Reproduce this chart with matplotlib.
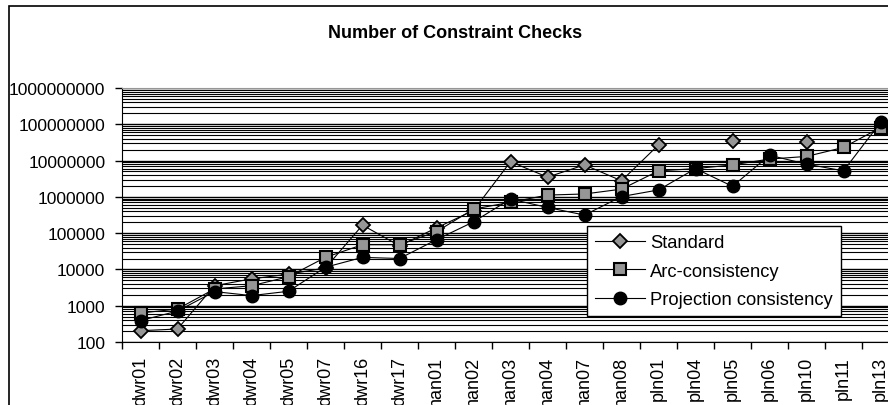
import numpy as np
import matplotlib
matplotlib.use("Agg")
import matplotlib.pyplot as plt
from matplotlib.ticker import FixedLocator, FuncFormatter, NullFormatter
from matplotlib.patches import Rectangle

plt.rcParams['font.family'] = ['Liberation Sans', 'DejaVu Sans']

# --- data --- #
problems = ["dwr01", "dwr02", "dwr03", "dwr04", "dwr05", "dwr07", "dwr16", "dwr17",
            "han01", "han02", "han03", "han04", "han07", "han08",
            "pln01", "pln04", "pln05", "pln06", "pln10", "pln11", "pln13"]

standard = [205, 228, 3550, 5500, 7400, 11000, 166000, 45000,
            140000, 420000, 9.3e6, 3.5e6, 7.6e6, 2.77e6,
            2.7e7, np.nan, 3.4e7, np.nan, 3.2e7, np.nan, np.nan]
arc = [630, 810, 2900, 3550, 6300, 21500, 48000, 48000,
       110000, 460000, 710000, 1.12e6, 1.2e6, 1.63e6,
       5.2e6, 6.0e6, 7.6e6, 1.1e7, 1.3e7, 2.3e7, 8.1e7]
projection = [390, 710, 2450, 1900, 2500, 11500, 21500, 20000,
              66000, 205000, 870000, 510000, 315000, 1.02e6,
              1.55e6, 6.0e6, 1.95e6, 1.4e7, 8.0e6, 5.2e6, 1.12e8]

W, H = 888, 406
fig = plt.figure(figsize=(W / 100, H / 100), dpi=100)

# plot area (runs past the right edge, like the cropped original)
left, right, top, bottom = 122, 899, 89, 343
ax = fig.add_axes([left / W, 1 - bottom / H, (right - left) / W, (bottom - top) / H])

x = np.arange(len(problems))
grey = "#969696"

ax.plot(x, standard, color="black", lw=0.8, marker="D", ms=7,
        mfc=grey, mec="black", mew=1.3, label="Standard", zorder=3)
ax.plot(x, arc, color="black", lw=0.8, marker="s", ms=8,
        mfc=grey, mec="black", mew=1.5, label="Arc-consistency", zorder=4)
ax.plot(x, projection, color="black", lw=0.8, marker="o", ms=9,
        mfc="black", mec="black", label="Projection consistency", zorder=5)

ax.set_yscale("log")
ax.set_ylim(100, 1e9)
ax.set_xlim(-0.5, len(problems) - 0.5)

majors = [10.0 ** k for k in range(2, 10)]
minors = [m * 10.0 ** k for k in range(2, 9) for m in range(2, 10)]
ax.yaxis.set_major_locator(FixedLocator(majors))
ax.yaxis.set_minor_locator(FixedLocator(minors))
ax.yaxis.set_major_formatter(FuncFormatter(lambda v, p: f"{int(round(v))}"))
ax.yaxis.set_minor_formatter(NullFormatter())
ax.grid(True, which="major", axis="y", color="black", lw=1.0, zorder=0)
ax.grid(True, which="minor", axis="y", color="black", lw=0.8, zorder=0)
ax.set_axisbelow(True)

# category ticks between categories, labels at centers
ax.set_xticks(np.arange(-0.5, len(problems)), minor=False)
ax.set_xticklabels([])
ax.set_xticks(x, minor=True)
ax.set_xticklabels(problems, minor=True, rotation=90, fontsize=13)
ax.tick_params(axis="x", which="major", direction="out", length=5, width=1)
ax.tick_params(axis="x", which="minor", length=0, pad=10)
ax.tick_params(axis="y", which="major", direction="out", length=5, width=1,
               labelsize=12.5, pad=7)
ax.tick_params(axis="y", which="minor", length=0)

ax.spines["right"].set_visible(False)
ax.spines["top"].set_color(grey)
ax.spines["left"].set_color("black")
ax.spines["bottom"].set_color("black")

fig.text(455 / W, 1 - 33 / H, "Number of Constraint Checks", ha="center",
         va="center", fontsize=13, fontweight="bold")

leg = ax.legend(loc="upper left", bbox_to_anchor=(587 / W, 1 - 227 / H),
                bbox_transform=fig.transFigure, fontsize=13.2, frameon=True,
                fancybox=False, edgecolor="black", framealpha=1,
                borderaxespad=0, borderpad=0.45, handlelength=2.7,
                handletextpad=0.3, labelspacing=0.62)
leg.get_frame().set_linewidth(1.0)

# chart area border
fig.patches.append(Rectangle((9 / W, -0.1), 1.2, 1 - 7 / H + 0.1,
                             transform=fig.transFigure, fill=False,
                             edgecolor="black", lw=1.2))

fig.savefig("out.png", dpi=100)
